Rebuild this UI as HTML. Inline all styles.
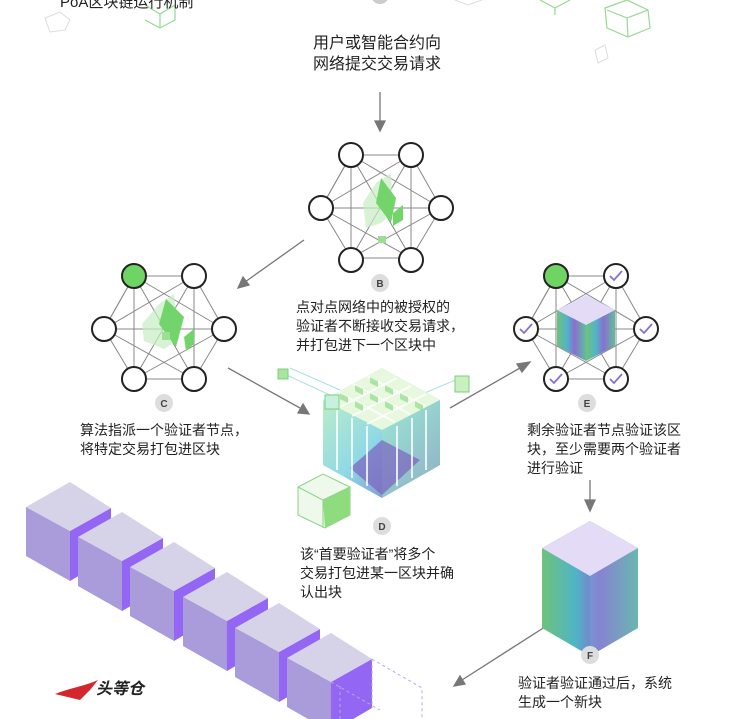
<!DOCTYPE html>
<html><head><meta charset="utf-8"><style>
html,body{margin:0;padding:0;background:#fff;}
body{width:752px;height:719px;position:relative;overflow:hidden;font-family:"Liberation Sans","Noto Sans CJK SC",sans-serif;color:#222;}
.t{position:absolute;font-size:14px;line-height:19px;white-space:nowrap;}
svg{position:absolute;left:0;top:0;}
</style></head><body>
<svg width="752" height="719" viewBox="0 0 752 719">
<defs>
<g id="edges" stroke="#888" stroke-width="1" fill="none">
<path d="M-30,-53L30,-53L60,0L30,50L-30,50L-60,0Z"/>
<path d="M-30,-53L60,0M-30,-53L30,50M-30,-53L-30,50M-30,-53L-60,0M30,-53L-60,0M30,-53L-30,50M30,-53L30,50M-60,0L60,0M-60,0L30,50M60,0L-30,50"/>
</g>
<linearGradient id="cg" x1="0" y1="0" x2="1" y2="0">
<stop offset="0" stop-color="#6fc27a"/><stop offset=".35" stop-color="#4fb4c8"/><stop offset=".6" stop-color="#8a6fcf"/><stop offset="1" stop-color="#5fbf9a"/>
</linearGradient>
<linearGradient id="dg" x1="0" y1="0" x2="1" y2="1"><stop offset="0" stop-color="#c9f2c0"/><stop offset=".5" stop-color="#8fd9e6"/><stop offset="1" stop-color="#7a62c0"/></linearGradient>
<g id="blk">
<path d="M26,507L70,531L70,581L26,556Z" fill="#aa9bdb"/>
<path d="M70,531L111,508L111,557L70,581Z" fill="#9366f4"/>
<path d="M26,507L70,482L111,508L70,531Z" fill="#d6d2e8"/>
</g>
</defs>

<!-- faint top cubes -->
<g stroke="#7ccf78" stroke-width="1.2" fill="none" opacity=".8">
<path d="M145,5L160,14L175,5M160,14L160,28M145,20L160,28L175,20L175,5"/>
<path d="M540,0L555,8L570,0M555,8L555,15"/>
<path d="M605,8L627,0L648,10L650,28L628,37L607,28Z M627,18L648,10M627,18L628,37M627,18L607,10"/>
</g>
<g stroke="#ddd" fill="none"><path d="M45,18L60,12L70,20L65,30L50,32Z"/><path d="M595,50L605,45L608,58L598,63Z"/><path d="M455,0L468,5L482,0"/></g>
<circle cx="380" cy="-5" r="9" fill="#ccc"/>

<!-- arrows -->
<g stroke="#777" stroke-width="1.3" fill="#777">
<line x1="380" y1="92" x2="380" y2="122"/><path d="M375,121L385,121L380,131Z"/>
<line x1="304" y1="240" x2="245" y2="282"/><path d="M238,288L243,277L249,285Z"/>
<line x1="228" y1="368" x2="300" y2="408"/><path d="M309,414L298,413L303,404Z"/>
<line x1="450" y1="408" x2="520" y2="368"/><path d="M530,362L522,372L517,364Z"/>
<line x1="590" y1="480" x2="590" y2="502"/><path d="M585,500L595,500L590,511Z"/>
<line x1="548" y1="625" x2="462" y2="680"/><path d="M454,686L460,676L465,684Z"/>
</g>

<!-- B network -->
<g transform="translate(381,208)">
<use href="#edges"/>
<path d="M-18,-5L-5,-25L10,-35L12,5L0,15L-15,20Z" fill="#c8ecc4" opacity=".7"/>
<path d="M0,-30L15,-10L10,15L-5,-5Z" fill="#72d46a"/>
<path d="M12,5L22,-3L22,12L12,18Z" fill="#72d46a"/>
<rect x="-3" y="28" width="8" height="7" fill="#9be092"/>
<g fill="#fff" stroke="#222" stroke-width="2"><circle cx="-30" cy="-53" r="12"/><circle cx="30" cy="-53" r="12"/><circle cx="-60" cy="0" r="12"/><circle cx="60" cy="0" r="12"/><circle cx="-30" cy="52" r="12"/><circle cx="30" cy="52" r="12"/></g>
</g>
<circle cx="380" cy="283" r="9" fill="#ddd"/><text x="380" y="287" font-size="10" text-anchor="middle" font-family="Liberation Sans" font-weight="bold" fill="#444">B</text>

<!-- C network -->
<g transform="translate(164,329)">
<use href="#edges"/>
<path d="M-22,-5L-5,-25L10,-35L15,10L0,20L-20,12Z" fill="#c8ecc4" opacity=".7"/>
<path d="M2,-30L20,-12L12,18L-5,-5Z" fill="#72d46a"/>
<path d="M20,8L30,0L30,15L22,22Z" fill="#72d46a"/>
<rect x="-2" y="3" width="8" height="8" fill="#9be092"/>
<g fill="#fff" stroke="#222" stroke-width="2"><circle cx="-30" cy="-53" r="12" fill="#6fd464"/><circle cx="30" cy="-53" r="12"/><circle cx="-60" cy="0" r="12"/><circle cx="60" cy="0" r="12"/><circle cx="-30" cy="50" r="12"/><circle cx="30" cy="50" r="12"/></g>
</g>
<circle cx="164" cy="403" r="9" fill="#ddd"/><text x="164" y="407" font-size="10" text-anchor="middle" font-family="Liberation Sans" font-weight="bold" fill="#444">C</text>

<!-- E network -->
<g transform="translate(586,329)">
<use href="#edges"/>
<path d="M0,-34L29,-19L0,-4L-29,-19Z" fill="#e4dcf7"/>
<path d="M-29,-19L0,-4L0,32L-29,17Z" fill="url(#cg)"/>
<path d="M29,-19L0,-4L0,32L29,17Z" fill="url(#cg)"/>
<g fill="#fff" stroke="#222" stroke-width="2"><circle cx="-30" cy="-53" r="12" fill="#6fd464"/><circle cx="30" cy="-53" r="12"/><circle cx="-60" cy="0" r="12"/><circle cx="60" cy="0" r="12"/><circle cx="-30" cy="50" r="12"/><circle cx="30" cy="50" r="12"/></g>
<g stroke="#8a6fcf" stroke-width="1.8" fill="none">
<path d="M24,-53l4,4l8,-9"/><path d="M-66,0l4,4l8,-9"/><path d="M54,0l4,4l8,-9"/><path d="M-36,50l4,4l8,-9"/><path d="M24,50l4,4l8,-9"/>
</g>
</g>
<circle cx="587" cy="403" r="9" fill="#ddd"/><text x="587" y="407" font-size="10" text-anchor="middle" font-family="Liberation Sans" font-weight="bold" fill="#444">E</text>

<!-- D cube -->
<g>
<path d="M280,372L330,395M290,368L340,390" stroke="#a9dfe8" stroke-width="1"/>
<rect x="278" y="369" width="10" height="10" fill="#a8e6a0" stroke="#7ccf78"/>
<path d="M420,395L460,378" stroke="#a9dfe8"/>
<rect x="455" y="376" width="14" height="16" fill="#c8f0c0" stroke="#7ccf78"/>
<path d="M382,368L440,400L440,465L382,498L323,465L323,400Z" fill="url(#dg)"/>
<path d="M382,368L440,400L382,430L323,400Z" fill="#e7f8df"/>
<path d="M382,430L440,400L440,465L382,498Z" fill="#9ee0c6" opacity=".6"/>
<path d="M382,440L420,460L382,495L350,468Z" fill="#7a62c0" opacity=".7"/>
<g stroke="#fff" stroke-width="2" opacity=".8" fill="none">
<path d="M338,392L395,422M353,384L410,414M367,376L425,406M338,408L397,378M352,416L411,386M367,424L426,394"/>
<path d="M337,410L337,470M352,418L352,478M367,426L367,486M397,426L397,486M412,418L412,478M426,410L426,470"/>
</g>
<g fill="#7fd476" opacity=".55">
<path d="M340,393l8,4v6l-8,-4Z"/><path d="M355,385l8,4v6l-8,-4Z"/><path d="M370,377l8,4v6l-8,-4Z"/><path d="M355,401l8,4v6l-8,-4Z"/><path d="M370,393l8,4v6l-8,-4Z"/><path d="M385,385l8,4v6l-8,-4Z"/><path d="M400,393l8,4v6l-8,-4Z"/><path d="M385,401l8,4v6l-8,-4Z"/><path d="M415,401l8,4v6l-8,-4Z"/>
</g>
<rect x="325" y="395" width="14" height="14" fill="#c8f0e0" stroke="#7ccf78"/>
<path d="M298,487L323,474L350,487L350,515L325,528L298,515Z" fill="#eef9ec" stroke="#8bd488"/>
<path d="M323,500L350,487L350,515L325,528Z" fill="#8fdc7f"/>
<path d="M298,487L323,500L323,528M323,500L350,487" stroke="#8bd488" fill="none"/>
</g>
<circle cx="382" cy="526" r="9" fill="#ddd"/><text x="382" y="530" font-size="10" text-anchor="middle" font-family="Liberation Sans" font-weight="bold" fill="#444">D</text>

<!-- F cube -->
<path d="M590,521L638,548L638,628L590,656L542,628L542,548Z" fill="url(#cg)"/>
<path d="M590,521L638,548L590,576L542,548Z" fill="#e4dcf7"/>
<path d="M590,576L638,548L638,628L590,656Z" fill="#7fa8d8" opacity=".35"/>
<circle cx="590" cy="655" r="9" fill="#ddd"/><text x="590" y="659" font-size="10" text-anchor="middle" font-family="Liberation Sans" font-weight="bold" fill="#444">F</text>

<!-- block chain -->
<g>
<use href="#blk"/>
<use href="#blk" transform="translate(52,30)"/>
<use href="#blk" transform="translate(104,60)"/>
<use href="#blk" transform="translate(157,90)"/>
<use href="#blk" transform="translate(209,121)"/>
<use href="#blk" transform="translate(261,151)"/>
<path d="M372,659L422,688L422,719M331,682L380,710M340,686L340,719M372,659L372,708" stroke="#b9a8e8" stroke-dasharray="3,3" fill="none"/>
</g>
<!-- logo -->
<path d="M55,694C70,688 85,686 98,680L90,690L80,700Z" fill="#d3262d"/>
</svg>

<div class="t" style="left:60px;top:-7px;font-size:15px;">PoA区块链运行机制</div>
<div class="t" style="left:313px;top:33px;font-size:16px;line-height:21px;text-align:center;">用户或智能合约向<br>网络提交交易请求</div>
<div class="t" style="left:296px;top:298px;">点对点网络中的被授权的<br>验证者不断接收交易请求，<br>并打包进下一个区块中</div>
<div class="t" style="left:80px;top:421px;">算法指派一个验证者节点，<br>将特定交易打包进区块</div>
<div class="t" style="left:527px;top:421px;">剩余验证者节点验证该区<br>块，至少需要两个验证者<br>进行验证</div>
<div class="t" style="left:300px;top:545px;">该“首要验证者”将多个<br>交易打包进某一区块并确<br>认出块</div>
<div class="t" style="left:518px;top:674px;">验证者验证通过后，系统<br>生成一个新块</div>
<div class="t" style="left:96px;top:680px;font-size:16px;font-weight:bold;font-style:italic;color:#222;">头等仓</div>
</body></html>
